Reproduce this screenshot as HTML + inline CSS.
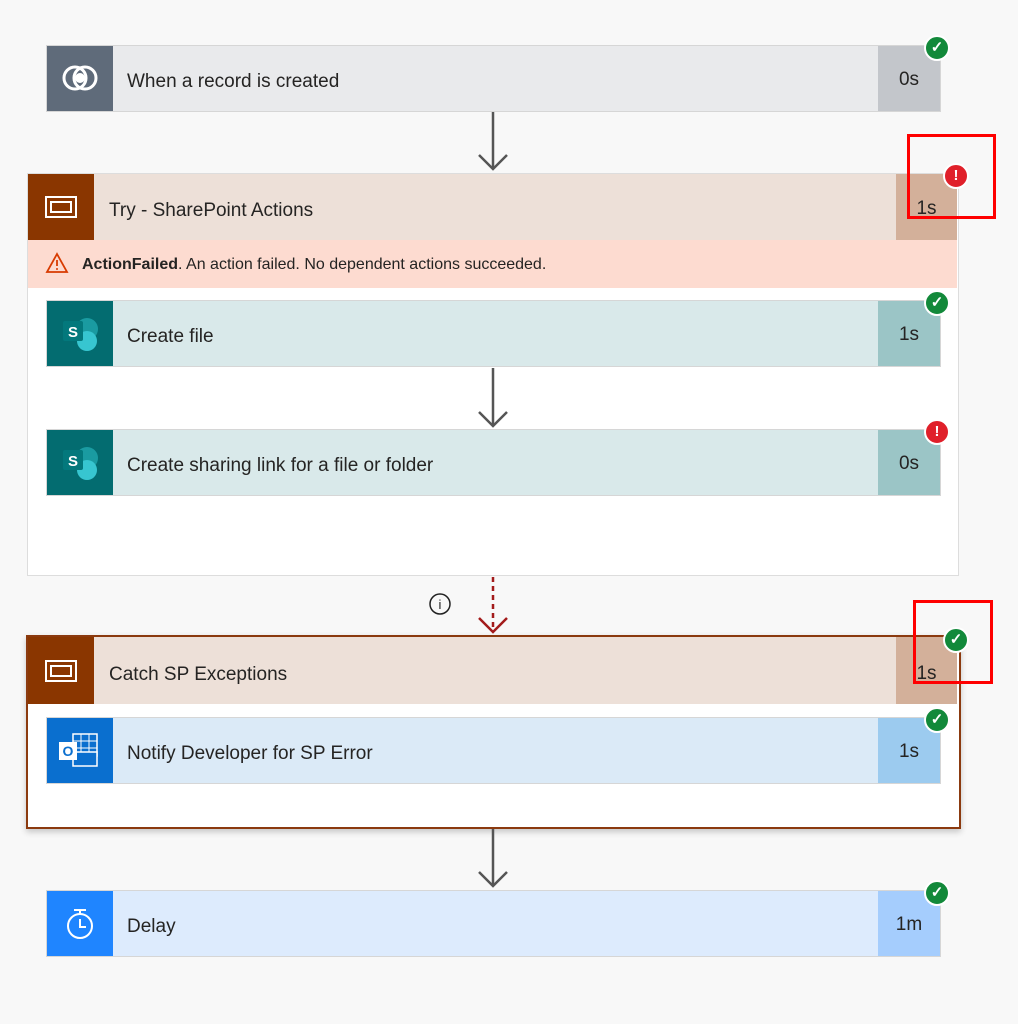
<!DOCTYPE html>
<html><head><style>
body{margin:0;width:1018px;height:1024px;background:#f8f8f8;position:relative;overflow:hidden;font-family:"Liberation Sans",sans-serif;color:#252423}
.a{position:absolute}
.card{position:absolute;left:46px;width:893px;height:65px;border:1px solid #d6d6d6}
.ic{position:absolute;left:0;top:0;width:66px;height:65px}
.t{position:absolute;left:80px;top:3px;line-height:65px;font-size:19px}
.d{position:absolute;right:0;top:0;width:62px;height:65px;line-height:68px;text-align:center;font-size:19px}
.b{position:absolute;width:22px;height:22px;border-radius:50%;border:2px solid #fff;color:#fff;text-align:center;line-height:22px;font-size:15px;font-weight:bold;z-index:2}
.g{background:#12893a}.r{background:#e0202a}
.rb{position:absolute;border:3px solid #f00;z-index:3}
</style></head><body>

<div class="card" style="top:45px;background:#e9eaec"><div class="ic" style="background:#5f6b7a"><svg width="66" height="65"><circle cx="28" cy="32" r="11" fill="none" stroke="#fff" stroke-width="3"/><circle cx="38" cy="32" r="11" fill="none" stroke="#fff" stroke-width="3"/><circle cx="33" cy="32" r="5" fill="#fff"/></svg></div><div class="t">When a record is created</div><div class="d" style="background:#c3c6cb">0s</div></div>

<div class="a" style="left:27px;top:173px;width:930px;height:401px;background:#fff;border:1px solid #ddd"></div>
<div class="a" style="left:28px;top:174px;width:929px;height:66px;background:#ede0d8"><div class="ic" style="background:#8a3600;height:66px"><svg width="66" height="66"><rect x="18" y="23" width="30" height="20" fill="none" stroke="#fff" stroke-width="2"/><rect x="23" y="28" width="20" height="10" fill="none" stroke="#fff" stroke-width="2"/></svg></div><div class="t" style="left:81px;line-height:68px">Try - SharePoint Actions</div><div class="d" style="width:61px;height:66px;line-height:70px;background:#d3b09a">1s</div></div>
<div class="a" style="left:28px;top:240px;width:929px;height:48px;background:#fddbd0;line-height:50px;font-size:16px"><svg class="a" style="left:17px;top:12px" width="24" height="22"><polygon points="12,2 22,20 2,20" fill="none" stroke="#d83b01" stroke-width="1.8"/><line x1="12" y1="8" x2="12" y2="14" stroke="#d83b01" stroke-width="1.8"/><circle cx="12" cy="17" r="1" fill="#d83b01"/></svg><span class="a" style="left:54px"><b>ActionFailed</b>. An action failed. No dependent actions succeeded.</span></div>

<div class="card" style="top:300px;background:#d9e9ea"><div class="ic" style="background:#036c70"><svg width="66" height="65"><circle cx="40" cy="28" r="11" fill="#1a9ba1"/><circle cx="40" cy="40" r="10" fill="#37c6d0"/><rect x="16" y="20" width="20" height="20" rx="2" fill="#03787c"/><text x="26" y="36" fill="#fff" font-size="15" font-weight="bold" text-anchor="middle" font-family="Liberation Sans">S</text></svg></div><div class="t">Create file</div><div class="d" style="background:#9bc5c6">1s</div></div>

<div class="card" style="top:429px;background:#d9e9ea"><div class="ic" style="background:#036c70"><svg width="66" height="65"><circle cx="40" cy="28" r="11" fill="#1a9ba1"/><circle cx="40" cy="40" r="10" fill="#37c6d0"/><rect x="16" y="20" width="20" height="20" rx="2" fill="#03787c"/><text x="26" y="36" fill="#fff" font-size="15" font-weight="bold" text-anchor="middle" font-family="Liberation Sans">S</text></svg></div><div class="t">Create sharing link for a file or folder</div><div class="d" style="background:#9bc5c6">0s</div></div>

<div class="a" style="left:26px;top:635px;width:931px;height:190px;background:#fff;border:2px solid #8b3a0f;box-shadow:0 3px 6px rgba(0,0,0,.2)"></div>
<div class="a" style="left:28px;top:637px;width:929px;height:67px;background:#ede0d8"><div class="ic" style="background:#8a3600;height:67px"><svg width="66" height="67"><rect x="18" y="24" width="30" height="20" fill="none" stroke="#fff" stroke-width="2"/><rect x="23" y="29" width="20" height="10" fill="none" stroke="#fff" stroke-width="2"/></svg></div><div class="t" style="left:81px;line-height:70px">Catch SP Exceptions</div><div class="d" style="width:61px;height:67px;line-height:74px;background:#d3b09a">1s</div></div>

<div class="card" style="top:717px;background:#dbeaf7"><div class="ic" style="background:#0a6fcf"><svg width="66" height="65"><rect x="26" y="16" width="24" height="22" fill="none" stroke="#fff" stroke-width="1.5"/><line x1="34" y1="16" x2="34" y2="38" stroke="#fff"/><line x1="42" y1="16" x2="42" y2="38" stroke="#fff"/><line x1="26" y1="23" x2="50" y2="23" stroke="#fff"/><line x1="26" y1="30" x2="50" y2="30" stroke="#fff"/><rect x="26" y="34" width="24" height="14" fill="#0a6fcf" stroke="#fff" stroke-width="1.5"/><rect x="12" y="24" width="18" height="18" fill="#fff"/><text x="21" y="38" fill="#0a6fcf" font-size="14" font-weight="bold" text-anchor="middle" font-family="Liberation Sans">O</text></svg></div><div class="t">Notify Developer for SP Error</div><div class="d" style="background:#9ccbef">1s</div></div>

<div class="card" style="top:890px;background:#ddebfd"><div class="ic" style="background:#1f85ff"><svg width="66" height="65"><circle cx="33" cy="35" r="12" fill="none" stroke="#fff" stroke-width="2"/><line x1="27" y1="19" x2="39" y2="19" stroke="#fff" stroke-width="2"/><line x1="33" y1="19" x2="33" y2="23" stroke="#fff" stroke-width="2"/><polyline points="33,28 33,36 39,36" fill="none" stroke="#fff" stroke-width="2"/></svg></div><div class="t">Delay</div><div class="d" style="background:#a5cdfd">1m</div></div>

<svg class="a" style="left:0;top:0;z-index:1" width="1018" height="1024">
<g stroke="#555" stroke-width="2.5" fill="none">
<line x1="493" y1="112" x2="493" y2="169"/><polyline points="479,155 493,169 507,155"/>
<line x1="493" y1="368" x2="493" y2="426"/><polyline points="479,412 493,426 507,412"/>
<line x1="493" y1="829" x2="493" y2="886"/><polyline points="479,872 493,886 507,872"/>
</g>
<g stroke="#a31b1b" stroke-width="2.5" fill="none">
<line x1="493" y1="577" x2="493" y2="632" stroke-dasharray="5,4"/><polyline points="479,618 493,632 507,618"/>
</g>
<circle cx="440" cy="604" r="10" fill="none" stroke="#222" stroke-width="1.5"/>
<text x="440" y="609" font-size="13" text-anchor="middle" font-family="Liberation Sans" fill="#222">i</text>
</svg>

<div class="b g" style="left:924px;top:35px">✓</div>
<div class="b r" style="left:943px;top:163px">!</div>
<div class="b g" style="left:924px;top:290px">✓</div>
<div class="b r" style="left:924px;top:419px">!</div>
<div class="b g" style="left:943px;top:627px">✓</div>
<div class="b g" style="left:924px;top:707px">✓</div>
<div class="b g" style="left:924px;top:880px">✓</div>

<div class="rb" style="left:907px;top:134px;width:83px;height:79px"></div>
<div class="rb" style="left:913px;top:600px;width:74px;height:78px"></div>
</body></html>
